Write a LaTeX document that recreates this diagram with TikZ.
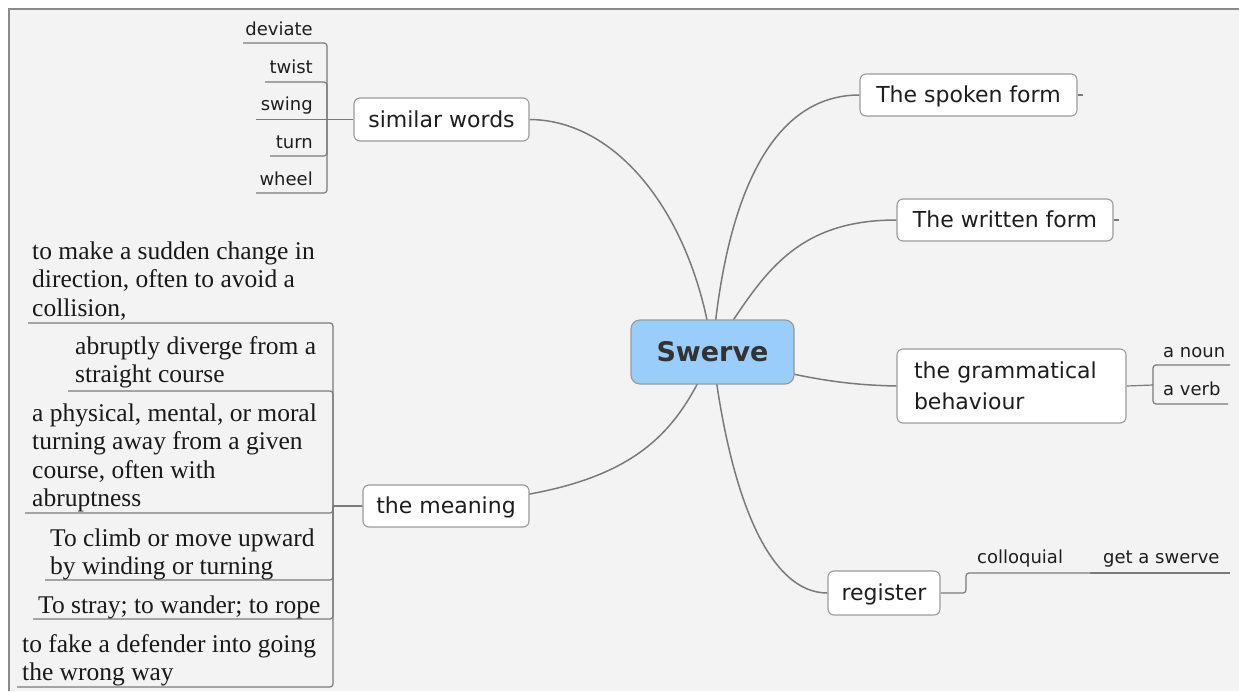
\documentclass[tikz,border=0pt]{standalone}
\usepackage{fontspec}
\setmainfont{Liberation Serif}
\newfontfamily\dv{DejaVu Sans}
\usetikzlibrary{backgrounds}
\definecolor{bgc}{HTML}{F3F3F3}
\definecolor{framec}{HTML}{8A8A8A}
\definecolor{connc}{HTML}{7A7A7A}
\definecolor{boxline}{HTML}{9A9A9A}
\definecolor{centralc}{RGB}{155,205,250}
\definecolor{txt}{HTML}{1E1E1E}
\begin{document}
\begin{tikzpicture}[x=1pt,y=-1pt,
  topic/.style={draw=boxline, fill=white, line width=1.1pt, rounded corners=6pt, inner sep=0pt,
    font=\dv\fontsize{22}{31}\selectfont, text=txt, text height=18pt, text depth=3pt},
  leaf/.style={inner sep=0pt, font=\dv\fontsize{18}{22}\selectfont, text=txt},
  mean/.style={inner sep=0pt, align=left, anchor=north west, font=\fontsize{25.5}{28.5}\selectfont, text=black!90},
  link/.style={draw=connc, line width=1.5pt},
  tree/.style={draw=connc, line width=1.2pt, rounded corners=3pt}]
\useasboundingbox (0,0) rectangle (1239,691);

% central
\node[draw=boxline, fill=centralc, rounded corners=9pt, line width=1.2pt, minimum width=163pt,
  minimum height=64pt, inner sep=0pt, font=\dv\bfseries\fontsize{27}{32}\selectfont, text=black!80] (c) at (712.5,352) {Swerve};

% main topics
\node[topic, minimum width=217pt, minimum height=42pt] (spoken) at (968.5,95) {The spoken form};
\node[topic, minimum width=216pt, minimum height=42pt] (written) at (1005,220) {The written form};
\node[topic, minimum width=229pt, minimum height=74pt, text width=195pt, align=left, text height=, text depth=] (gram) at (1011.5,386) {the grammatical\\behaviour};
\node[topic, minimum width=112pt, minimum height=44pt] (reg) at (884,593) {register};
\node[topic, minimum width=175pt, minimum height=43pt] (sim) at (441.5,119.5) {similar words};
\node[topic, minimum width=166pt, minimum height=42pt] (mng) at (446,506) {the meaning};

% similar words leaves
\node[leaf, anchor=base east] (dev) at (313,35) {deviate};
\node[leaf, anchor=base east] (twi) at (313,73) {twist};
\node[leaf, anchor=base east] (swi) at (313,110) {swing};
\node[leaf, anchor=base east] (tur) at (313,148) {turn};
\node[leaf, anchor=base east] (whe) at (313,185) {wheel};
\coordinate (simj) at (327,119.5);
\coordinate (devu) at (243,43);
\coordinate (twiu) at (265,82);
\coordinate (swiu) at (256,119.5);
\coordinate (turu) at (270,156);
\coordinate (wheu) at (256,193);

% meaning leaves
\node[mean] (m1) at (32,239) {\strut to make a sudden change in\\direction, often to avoid a\\collision,};
\node[mean] (m2) at (75,334) {\strut abruptly diverge from a\\straight course};
\node[mean] (m3) at (32,401) {\strut a physical, mental, or moral\\turning away from a given\\course, often with\\abruptness};
\node[mean] (m4) at (50,526) {\strut To climb or move upward\\by winding or turning};
\node[mean] (m5) at (38,593) {\strut To stray; to wander; to rope};
\node[mean] (m6) at (22,632) {\strut to fake a defender into going\\the wrong way};
\coordinate (mngj) at (333,506);
\coordinate (m1u) at (28,323);
\coordinate (m2u) at (68,391);
\coordinate (m3u) at (25,513);
\coordinate (m4u) at (45,580);
\coordinate (m5u) at (33,619);
\coordinate (m6u) at (17,687);

% grammatical leaves
\node[leaf, anchor=base west] (noun) at (1163,357) {a noun};
\node[leaf, anchor=base west] (verb) at (1163,395) {a verb};
\coordinate (gramj) at (1153,385);
\coordinate (nounu) at (1230,365);
\coordinate (verbu) at (1228,404);

% register leaves
\node[leaf, anchor=base west] (col) at (977,563) {colloquial};
\node[leaf, anchor=base west] (get) at (1103,563) {get a swerve};
\coordinate (regj) at (966,593);
\coordinate (colu) at (1090,573);
\coordinate (getu) at (1230,573);

\begin{scope}[on background layer]
  \fill[white] (0,0) rectangle (1239,691);
  \fill[bgc] (8.5,8.5) rectangle (1239,691);
  \draw[framec, line width=2pt] (8.5,691) -- (8.5,8.5) -- (1239,8.5);

  % central connectors
  \draw[link] (c.center) .. controls (695,220) and (620,120) .. (sim.east);
  \draw[link] (c.center) .. controls (725,200) and (770,95) .. (spoken.west);
  \draw[link] (c.center) .. controls (760,280) and (790,220) .. (written.west);
  \draw[link] (c.center) .. controls (800,380) and (850,385) .. (gram.west);
  \draw[link] (c.center) .. controls (670,450) and (620,506) .. (mng.west);
  \draw[link] (c.center) .. controls (730,500) and (770,593) .. (reg.west);

  % stubs
  \draw[tree] (spoken.east) -- ++(5,0);
  \draw[tree] (written.east) -- ++(5,0);

  % similar words tree
  \draw[tree] (sim.west) -- (simj);
  \draw[tree] (simj) |- (devu);
  \draw[tree] (simj) |- (twiu);
  \draw[tree] (simj) -- (swiu);
  \draw[tree] (simj) |- (turu);
  \draw[tree] (simj) |- (wheu);

  % meaning tree
  \draw[tree] (mng.west) -- (mngj);
  \draw[tree] (mngj) |- (m1u);
  \draw[tree] (mngj) |- (m2u);
  \draw[tree] (mngj) |- (m3u);
  \draw[tree] (mngj) |- (m4u);
  \draw[tree] (mngj) |- (m5u);
  \draw[tree] (mngj) |- (m6u);

  % grammatical tree
  \draw[tree] (gram.east) -- (gramj);
  \draw[tree] (gramj) |- (nounu);
  \draw[tree] (gramj) |- (verbu);

  % register tree
  \draw[tree] (reg.east) -- (regj) |- (colu);
  \draw[tree] (colu) -- (getu);
\end{scope}
\end{tikzpicture}
\end{document}
